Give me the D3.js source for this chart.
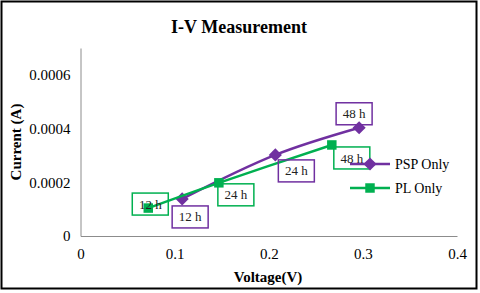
<!DOCTYPE html>
<html>
<head>
<meta charset="utf-8">
<script src="https://cdn.jsdelivr.net/npm/d3@7"></script>
<style>
  html, body { margin: 0; padding: 0; background: #fff; }
  svg { display: block; }
</style>
</head>
<body>
<div id="chart"></div>
<script>
// data
const seriesNames = ["PSP Only", "PL Only"];
const pspVoltage = [0.108, 0.207, 0.296];
const pspCurrent = [0.000138, 0.000302, 0.000403];
const plVoltage = [0.072, 0.147, 0.267];
const plCurrent = [0.000104, 0.000198, 0.000339];
const pointLabels = ["12 h", "24 h", "48 h"];
const xTicks = [0, 0.1, 0.2, 0.3, 0.4];
const yTicks = [0, 0.0002, 0.0004, 0.0006];

const width = 480, height = 293;
const serif = '"Liberation Serif"';

const svg = d3.select("#chart").append("svg")
    .attr("width", width)
    .attr("height", height);

// outer frame
svg.append("rect")
    .attr("x", 1.5).attr("y", 1.5)
    .attr("width", 475).attr("height", 287)
    .attr("fill", "#fff")
    .attr("stroke", "#000")
    .attr("stroke-width", 2);

const x = d3.scaleLinear().domain([0, 0.4]).range([80.5, 457]);
const y = d3.scaleLinear().domain([0, 0.0007]).range([236, 48]);

svg.append("text")
    .attr("x", 239).attr("y", 33)
    .attr("text-anchor", "middle")
    .attr("font-size", 18).attr("font-weight", "bold")
    .text("I-V Measurement");

// axes
const xAxis = svg.append("g")
    .attr("transform", `translate(0,${y(0)})`)
    .call(d3.axisBottom(x).tickValues(xTicks).tickSize(0).tickPadding(12)
        .tickFormat(d => d === 0 ? "0" : d3.format(".1f")(d)));

const yAxis = svg.append("g")
    .attr("transform", `translate(${x(0)},0)`)
    .call(d3.axisLeft(y).tickValues(yTicks).tickSize(0).tickPadding(10)
        .tickFormat(d => d === 0 ? "0" : d3.format(".4f")(d)));

[xAxis, yAxis].forEach(g => {
    g.select(".domain").attr("stroke", "#8c8c8c").attr("stroke-width", 1);
    g.selectAll("text")
        .attr("font-size", 15)
        .attr("fill", "#000");
});

svg.append("text")
    .attr("x", 268).attr("y", 282)
    .attr("text-anchor", "middle")
    .attr("font-size", 15).attr("font-weight", "bold")
    .text("Voltage(V)");

svg.append("text")
    .attr("transform", "translate(21,142) rotate(-90)")
    .attr("text-anchor", "middle")
    .attr("font-size", 15).attr("font-weight", "bold")
    .text("Current (A)");

const series = [
    {name: seriesNames[0], color: "#7030a0", shape: d3.symbolDiamond2,
     points: pspVoltage.map((v, i) => ({v, c: pspCurrent[i], label: pointLabels[i]})),
     offsets: [[8, 18], [21, 16], [-5, -14]]},
    {name: seriesNames[1], color: "#00b050", shape: d3.symbolSquare,
     points: plVoltage.map((v, i) => ({v, c: plCurrent[i], label: pointLabels[i]})),
     offsets: [[2, -4], [17, 12], [20, 13]]}
];

const line = d3.line()
    .x(d => x(d.v))
    .y(d => y(d.c))
    .curve(d3.curveCatmullRom);

series.forEach(s => {
    svg.append("path")
        .datum(s.points)
        .attr("fill", "none")
        .attr("stroke", s.color)
        .attr("stroke-width", 2.5)
        .attr("d", line);

    svg.selectAll(null)
        .data(s.points)
        .join("path")
        .attr("transform", d => `translate(${x(d.v)},${y(d.c)})`)
        .attr("d", d3.symbol(s.shape, s.shape === d3.symbolSquare ? 90 : 110))
        .attr("fill", s.color);
});

// data labels
series.forEach(s => {
    const lab = svg.selectAll(null)
        .data(s.points)
        .join("g")
        .attr("transform", (d, i) => `translate(${x(d.v) + s.offsets[i][0]},${y(d.c) + s.offsets[i][1]})`);

    lab.append("rect")
        .attr("x", -18).attr("y", -11)
        .attr("width", 36).attr("height", 22)
        .attr("fill", "none")
        .attr("stroke", s.color)
        .attr("stroke-width", 1.5);

    lab.append("text")
        .attr("text-anchor", "middle")
        .attr("dy", "0.35em")
        .attr("font-size", 13)
        .attr("fill", "#222")
        .text(d => d.label);
});

// legend
const legend = svg.selectAll(".legend")
    .data(series)
    .join("g")
    .attr("class", "legend")
    .attr("transform", (d, i) => `translate(350,${164 + i * 24})`);

legend.append("line")
    .attr("x1", 0).attr("x2", 40)
    .attr("stroke", d => d.color)
    .attr("stroke-width", 2.5);

legend.append("path")
    .attr("transform", "translate(20,0)")
    .attr("d", d => d3.symbol(d.shape, d.shape === d3.symbolSquare ? 90 : 110)())
    .attr("fill", d => d.color);

legend.append("text")
    .attr("x", 45)
    .attr("dy", "0.35em")
    .attr("font-size", 14)
    .attr("fill", "#000")
    .text(d => d.name);

// one font for every text, set inline so nothing overrides it
svg.selectAll("text").style("font-family", serif);
</script>
</body>
</html>
